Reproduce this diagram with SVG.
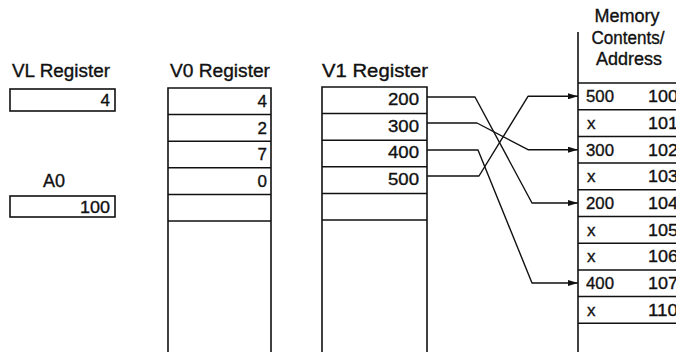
<svg xmlns="http://www.w3.org/2000/svg" width="676" height="354" viewBox="0 0 676 354">
  <defs>
    <style>
      .lbl { font-family: "Liberation Sans", Arial, sans-serif; font-size: 18px; fill: #111; stroke: #111; stroke-width: 0.35; }
      .num { font-family: "Liberation Sans", Arial, sans-serif; font-size: 17px; fill: #111; stroke: #111; stroke-width: 0.35; }
      .end { text-anchor: end; }
      .mid { text-anchor: middle; }
      .box { fill: none; stroke: #111; stroke-width: 1.6; }
      .ln { fill: none; stroke: #111; stroke-width: 1.5; }
      .wire { fill: none; stroke: #111; stroke-width: 1.4; stroke-linejoin: round; }
    </style>
    <marker id="arrow" viewBox="0 0 10 6" refX="10" refY="3" markerWidth="10" markerHeight="6" markerUnits="userSpaceOnUse" orient="auto">
      <path d="M0,0 L10,3 L0,6 Z" fill="#111"/>
    </marker>
  </defs>
  <rect width="676" height="354" fill="#fff"/>

  <!-- VL register -->
  <g id="vl-register">
    <text class="lbl" x="12" y="77" textLength="98" lengthAdjust="spacingAndGlyphs">VL Register</text>
    <rect class="box" x="10" y="89" width="105" height="22"/>
    <text class="num end" x="110" y="106">4</text>
  </g>

  <!-- A0 scalar register -->
  <g id="a0-register">
    <text class="lbl mid" x="54" y="187">A0</text>
    <rect class="box" x="10" y="196" width="105" height="21"/>
    <text class="num end" x="110" y="213" textLength="30" lengthAdjust="spacingAndGlyphs">100</text>
  </g>

  <!-- V0 register: index vector -->
  <g id="v0-register">
    <text class="lbl" x="170" y="77" textLength="100" lengthAdjust="spacingAndGlyphs">V0 Register</text>
    <path class="box" d="M168,352 V88 H271 V352"/>
    <path class="ln" d="M168,114.6 H271 M168,141.2 H271 M168,167.8 H271 M168,194.4 H271 M168,221 H271"/>
    <text class="num end" x="267" y="107">4</text>
    <text class="num end" x="267" y="134">2</text>
    <text class="num end" x="267" y="160">7</text>
    <text class="num end" x="267" y="187">0</text>
  </g>

  <!-- V1 register: addresses -->
  <g id="v1-register">
    <text class="lbl" x="322" y="77" textLength="106" lengthAdjust="spacingAndGlyphs">V1 Register</text>
    <path class="box" d="M322,352 V87 H427 V352"/>
    <path class="ln" d="M322,113.6 H427 M322,140.2 H427 M322,166.8 H427 M322,193.4 H427 M322,220 H427"/>
    <text class="num end" x="419" y="105" textLength="31" lengthAdjust="spacingAndGlyphs">200</text>
    <text class="num end" x="419" y="132" textLength="31" lengthAdjust="spacingAndGlyphs">300</text>
    <text class="num end" x="419" y="158" textLength="31" lengthAdjust="spacingAndGlyphs">400</text>
    <text class="num end" x="419" y="185" textLength="31" lengthAdjust="spacingAndGlyphs">500</text>
  </g>

  <!-- Memory contents / address column -->
  <g id="memory">
    <text class="lbl mid" x="627" y="22" font-size="17">Memory</text>
    <text class="lbl mid" x="628" y="44" font-size="17" textLength="73" lengthAdjust="spacingAndGlyphs">Contents/</text>
    <text class="lbl mid" x="629" y="65" font-size="17" textLength="66" lengthAdjust="spacingAndGlyphs">Address</text>
    <path class="box" d="M578,32 V352"/>
    <path class="ln" d="M578,83 H676 M578,109.7 H676 M578,136.4 H676 M578,163.1 H676 M578,189.8 H676 M578,216.5 H676 M578,243.2 H676 M578,269.9 H676 M578,296.6 H676 M578,323.3 H676"/>
    <g class="num">
      <text x="586" y="102" textLength="28" lengthAdjust="spacingAndGlyphs">500</text>
      <text x="587" y="129">x</text>
      <text x="586" y="156" textLength="28" lengthAdjust="spacingAndGlyphs">300</text>
      <text x="587" y="182">x</text>
      <text x="586" y="209" textLength="28" lengthAdjust="spacingAndGlyphs">200</text>
      <text x="587" y="236">x</text>
      <text x="587" y="262">x</text>
      <text x="586" y="289" textLength="28" lengthAdjust="spacingAndGlyphs">400</text>
      <text x="587" y="316">x</text>
    </g>
    <g class="num end">
      <text x="678" y="102" textLength="30" lengthAdjust="spacingAndGlyphs">100</text>
      <text x="678" y="129" textLength="30" lengthAdjust="spacingAndGlyphs">101</text>
      <text x="678" y="156" textLength="30" lengthAdjust="spacingAndGlyphs">102</text>
      <text x="678" y="182" textLength="30" lengthAdjust="spacingAndGlyphs">103</text>
      <text x="678" y="209" textLength="30" lengthAdjust="spacingAndGlyphs">104</text>
      <text x="678" y="236" textLength="30" lengthAdjust="spacingAndGlyphs">105</text>
      <text x="678" y="262" textLength="30" lengthAdjust="spacingAndGlyphs">106</text>
      <text x="678" y="289" textLength="30" lengthAdjust="spacingAndGlyphs">107</text>
      <text x="678" y="316" textLength="30" lengthAdjust="spacingAndGlyphs">110</text>
    </g>
  </g>

  <!-- gather connectors: each V1 address points at its memory word -->
  <g id="connectors">
    <path class="wire" d="M427,97 H475 L532,203 H578" marker-end="url(#arrow)"/>
    <path class="wire" d="M427,123 H477 L528,149.7 H578" marker-end="url(#arrow)"/>
    <path class="wire" d="M427,150 H478 L532,283 H578" marker-end="url(#arrow)"/>
    <path class="wire" d="M427,176 H479 L528,96.3 H578" marker-end="url(#arrow)"/>
  </g>
</svg>
